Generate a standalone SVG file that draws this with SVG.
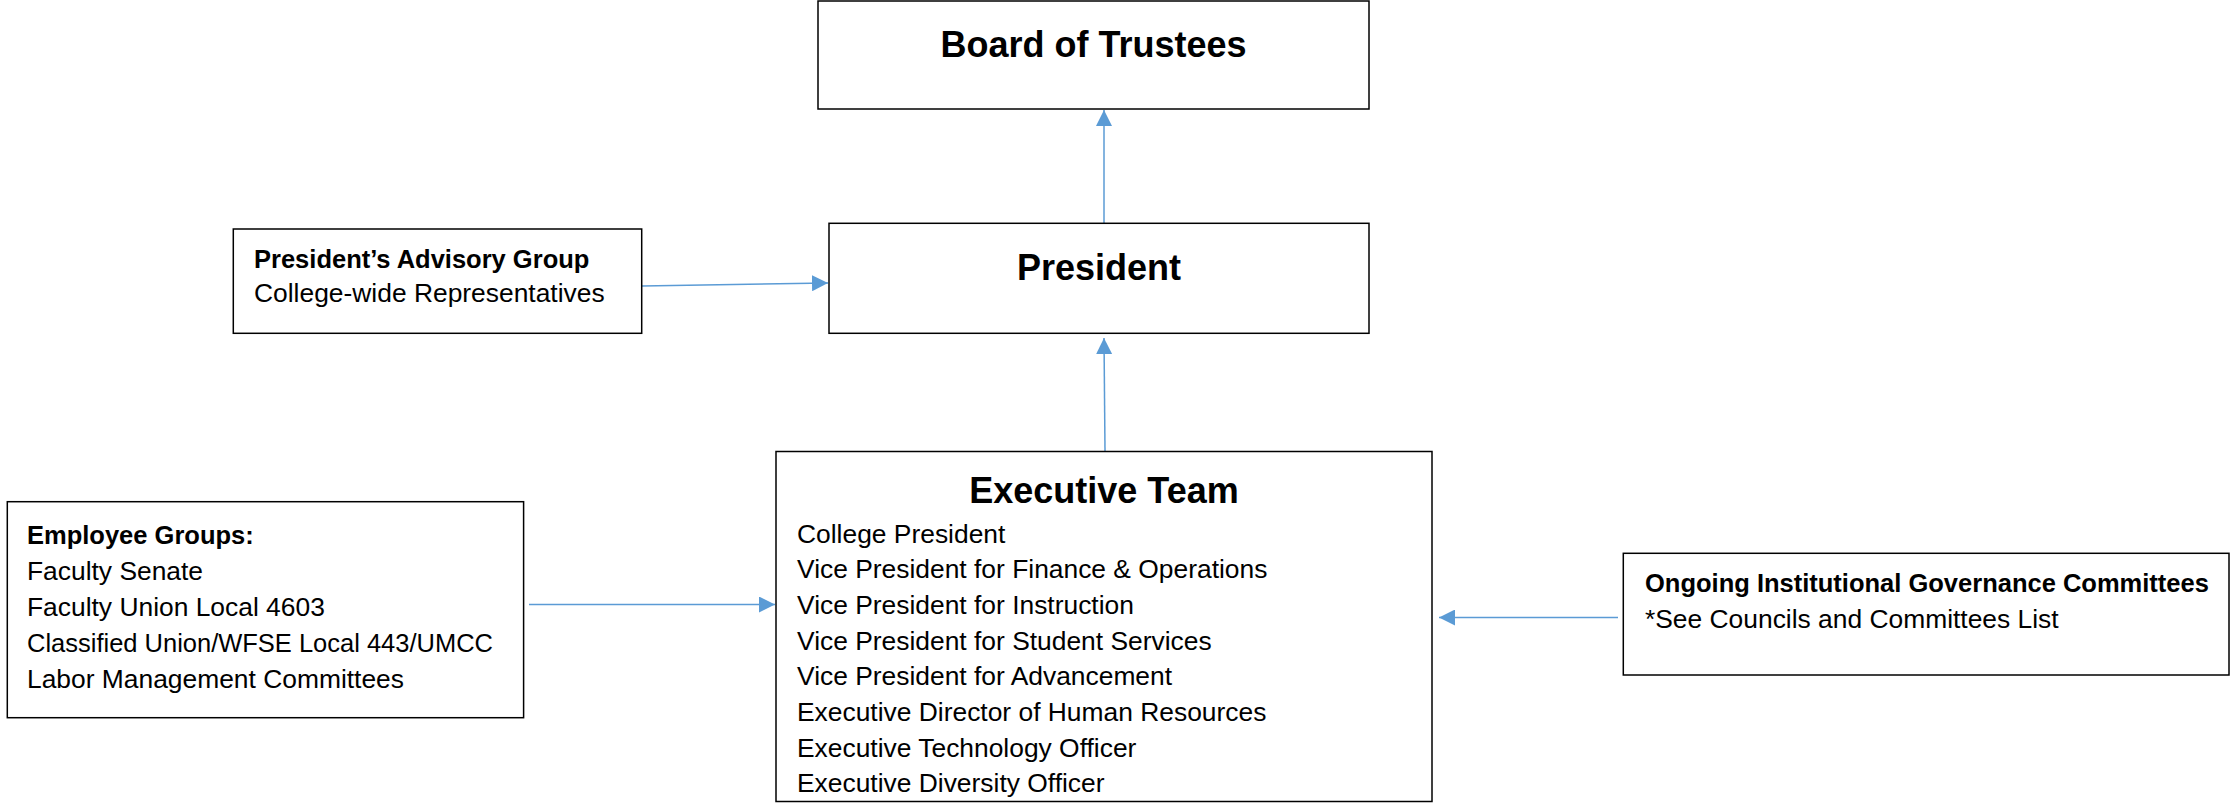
<svg xmlns="http://www.w3.org/2000/svg" width="2231" height="812" viewBox="0 0 2231 812">
<style>
.box{fill:#fff;stroke:#000;stroke-width:1.5}
.title{font-family:"Liberation Sans",Arial,sans-serif;font-weight:bold;font-size:36px;fill:#000;text-anchor:middle}
.hd{font-family:"Liberation Sans",Arial,sans-serif;font-weight:bold;font-size:25.5px;fill:#000}
.tx{font-family:"Liberation Sans",Arial,sans-serif;font-size:26.4px;fill:#000}
.conn{stroke:#5B9BD5;stroke-width:1.5;fill:none;marker-end:url(#arr)}
</style>
<defs>
<marker id="arr" markerUnits="userSpaceOnUse" markerWidth="16" markerHeight="16" refX="16" refY="8" orient="auto">
<path d="M0,0 L16,8 L0,16 z" fill="#5B9BD5"/>
</marker>
</defs>
<rect width="2231" height="812" fill="#fff"/>
<g id="connectors">
<line class="conn" x1="1104" y1="223" x2="1104" y2="110"/>
<line class="conn" x1="1105" y1="451" x2="1104" y2="338"/>
<line class="conn" x1="642" y1="286" x2="828" y2="283"/>
<line class="conn" x1="529" y1="604.5" x2="775" y2="604.5"/>
<line class="conn" x1="1618" y1="617.5" x2="1439" y2="617.5"/>
</g>
<g id="board">
<rect class="box" x="818" y="1" width="551" height="108"/>
<text class="title" x="1093.5" y="57">Board of Trustees</text>
</g>
<g id="president">
<rect class="box" x="829" y="223.3" width="540" height="110"/>
<text class="title" x="1099" y="280">President</text>
</g>
<g id="advisory">
<rect class="box" x="233.3" y="229" width="408.4" height="104.3"/>
<text class="hd" x="254" y="267.7">President’s Advisory Group</text>
<text class="tx" x="254" y="302.3">College-wide Representatives</text>
</g>
<g id="executive">
<rect class="box" x="776" y="451.5" width="656" height="350"/>
<text class="title" x="1104" y="502.7">Executive Team</text>
<text class="tx" x="797" y="542.5">College President</text>
<text class="tx" x="797" y="578.2">Vice President for Finance &amp; Operations</text>
<text class="tx" x="797" y="613.9">Vice President for Instruction</text>
<text class="tx" x="797" y="649.6">Vice President for Student Services</text>
<text class="tx" x="797" y="685.3">Vice President for Advancement</text>
<text class="tx" x="797" y="721">Executive Director of Human Resources</text>
<text class="tx" x="797" y="756.7">Executive Technology Officer</text>
<text class="tx" x="797" y="792.4">Executive Diversity Officer</text>
</g>
<g id="employee">
<rect class="box" x="7.3" y="501.7" width="516.3" height="216"/>
<text class="hd" x="27" y="543.5">Employee Groups:</text>
<text class="tx" x="27" y="579.5">Faculty Senate</text>
<text class="tx" x="27" y="615.5">Faculty Union Local 4603</text>
<text class="tx" x="27" y="651.5" textLength="466" lengthAdjust="spacingAndGlyphs">Classified Union/WFSE Local 443/UMCC</text>
<text class="tx" x="27" y="687.5">Labor Management Committees</text>
</g>
<g id="ongoing">
<rect class="box" x="1623.3" y="553.3" width="605.7" height="121.7"/>
<text class="hd" x="1645" y="591.5">Ongoing Institutional Governance Committees</text>
<text class="tx" x="1645" y="628">*See Councils and Committees List</text>
</g>
</svg>
